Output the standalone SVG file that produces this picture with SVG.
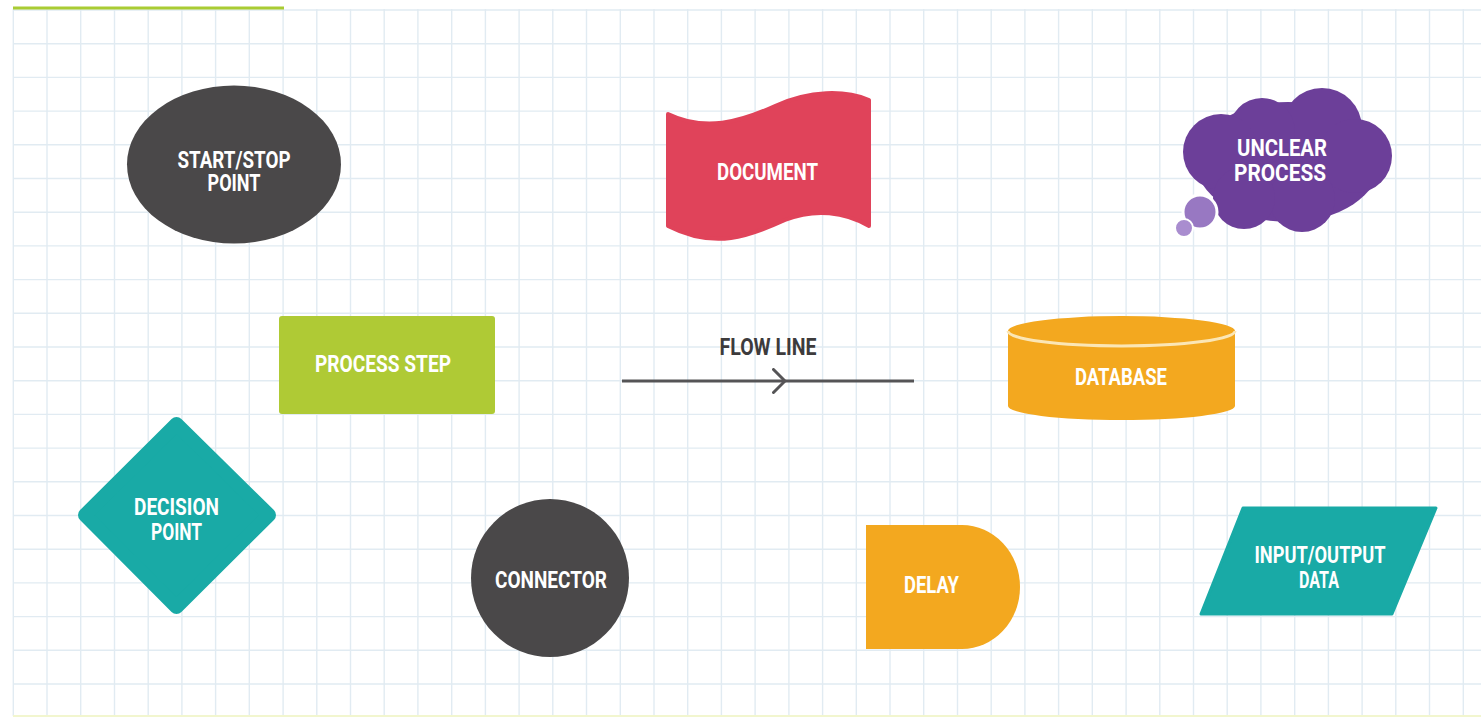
<svg xmlns="http://www.w3.org/2000/svg" width="1481" height="717" viewBox="0 0 1481 717">
  <style>
    .lbl { font-family: Roboto, "Liberation Sans", "DejaVu Sans", sans-serif; font-weight: bold; font-size: 24px; fill: #ffffff; text-anchor: middle; }
    .dark { fill: #3d3b3c; }
    .gray { fill: #4a4849; }
    .red { fill: #e0435a; stroke: #e0435a; stroke-width: 4; stroke-linejoin: round; }
    .purple { fill: #6c3f99; }
    .lime { fill: #afca35; }
    .teal { fill: #19aaa6; stroke: #19aaa6; stroke-linejoin: round; }
    .orange { fill: #f3a81f; }
    .flow { fill: none; stroke: #555456; stroke-width: 3; }
    .grid { fill: none; stroke: #e1ebf2; stroke-width: 1.4; }
  </style>
  <defs>
    <marker id="chevron" viewBox="0 0 15 26" refX="13" refY="13" markerWidth="15" markerHeight="26" markerUnits="userSpaceOnUse" orient="auto">
      <path d="M1.5 1.5 L13 13 L1.5 24.5" fill="none" stroke="#555456" stroke-width="3" stroke-linecap="round"/>
    </marker>
  </defs>

  <!-- paper with square grid -->
  <rect width="1481" height="717" fill="#ffffff"/>
  <path class="grid" d="
    M13.3 9 V716 M47 9 V716 M80.7 9 V716 M114.5 9 V716 M148.2 9 V716 M181.9 9 V716 M215.6 9 V716 M249.3 9 V716
    M283.1 9 V716 M316.8 9 V716 M350.5 9 V716 M384.2 9 V716 M417.9 9 V716 M451.7 9 V716 M485.4 9 V716 M519.1 9 V716
    M552.8 9 V716 M586.5 9 V716 M620.3 9 V716 M654 9 V716 M687.7 9 V716 M721.4 9 V716 M755.1 9 V716 M788.9 9 V716
    M822.6 9 V716 M856.3 9 V716 M890 9 V716 M923.7 9 V716 M957.5 9 V716 M991.2 9 V716 M1024.9 9 V716 M1058.6 9 V716
    M1092.3 9 V716 M1126.1 9 V716 M1159.8 9 V716 M1193.5 9 V716 M1227.2 9 V716 M1260.9 9 V716 M1294.7 9 V716 M1328.4 9 V716
    M1362.1 9 V716 M1395.8 9 V716 M1429.5 9 V716 M1463.3 9 V716
    M13 10 H1481 M13 43.7 H1481 M13 77.4 H1481 M13 111.1 H1481 M13 144.8 H1481 M13 178.5 H1481 M13 212.2 H1481
    M13 245.9 H1481 M13 279.6 H1481 M13 313.3 H1481 M13 347 H1481 M13 380.7 H1481 M13 414.4 H1481 M13 448.1 H1481
    M13 481.8 H1481 M13 515.5 H1481 M13 549.2 H1481 M13 582.9 H1481 M13 616.6 H1481 M13 650.3 H1481 M13 684 H1481"/>
  <rect x="13" y="6.5" width="271" height="3" fill="#a9cc33"/>
  <rect x="13" y="715" width="1468" height="2" fill="#f2f6cf"/>

  <!-- connectors -->
  <g id="connectors">
    <path id="flow-line" class="flow" d="M622 381 L785 381 L914 381" marker-mid="url(#chevron)"/>
    <text class="lbl dark" x="768" y="355" textLength="97" lengthAdjust="spacingAndGlyphs">FLOW LINE</text>
  </g>

  <!-- start / stop -->
  <g id="start-stop">
    <ellipse class="gray" cx="234" cy="164.5" rx="107" ry="79"/>
    <text class="lbl" x="234" y="168" textLength="113" lengthAdjust="spacingAndGlyphs">START/STOP</text>
    <text class="lbl" x="234" y="191" textLength="53" lengthAdjust="spacingAndGlyphs">POINT</text>
  </g>

  <!-- document -->
  <g id="document">
    <path class="red" d="M668 114 C 705 132, 740 122, 775 106 C 810 90, 845 90, 869 100 L 869 226 C 845 212, 815 208, 785 220 C 750 236, 715 250, 668 226 Z"/>
    <text class="lbl" x="767.5" y="180" textLength="101" lengthAdjust="spacingAndGlyphs">DOCUMENT</text>
  </g>

  <!-- unclear process -->
  <g id="unclear-process">
    <g class="purple">
      <ellipse cx="1288" cy="162" rx="92" ry="60"/>
      <circle cx="1322" cy="128" r="40"/>
      <circle cx="1262" cy="131" r="33"/>
      <circle cx="1221" cy="152" r="38"/>
      <circle cx="1355" cy="156" r="37"/>
      <circle cx="1302" cy="199" r="33"/>
      <circle cx="1244" cy="198" r="31"/>
    </g>
    <circle cx="1200" cy="212" r="17" fill="#9878c2" stroke="#ffffff" stroke-width="3"/>
    <circle cx="1184" cy="228" r="9" fill="#a98dcf" stroke="#ffffff" stroke-width="2"/>
    <text class="lbl" x="1282" y="156" textLength="90" lengthAdjust="spacingAndGlyphs">UNCLEAR</text>
    <text class="lbl" x="1280" y="181" textLength="92" lengthAdjust="spacingAndGlyphs">PROCESS</text>
  </g>

  <!-- process step -->
  <g id="process-step">
    <rect class="lime" x="279" y="316" width="216" height="98" rx="3"/>
    <text class="lbl" x="383" y="372" textLength="136" lengthAdjust="spacingAndGlyphs">PROCESS STEP</text>
  </g>

  <!-- database -->
  <g id="database">
    <path class="orange" d="M1008 331 L1008 406 A113.5 14 0 0 0 1235 406 L1235 331 A113.5 15 0 0 0 1008 331 Z"/>
    <path d="M1008 331 A113.5 15 0 0 0 1235 331" fill="none" stroke="#fbe6b5" stroke-width="3"/>
    <text class="lbl" x="1121" y="385" textLength="92" lengthAdjust="spacingAndGlyphs">DATABASE</text>
  </g>

  <!-- decision point -->
  <g id="decision-point">
    <polygon class="teal" stroke-width="14" points="176.5,424 269,515 176.5,607 85,515"/>
    <text class="lbl" x="176.5" y="515" textLength="85" lengthAdjust="spacingAndGlyphs">DECISION</text>
    <text class="lbl" x="176.5" y="540" textLength="51" lengthAdjust="spacingAndGlyphs">POINT</text>
  </g>

  <!-- connector -->
  <g id="connector">
    <circle class="gray" cx="550" cy="578" r="79"/>
    <text class="lbl" x="551" y="588" textLength="112" lengthAdjust="spacingAndGlyphs">CONNECTOR</text>
  </g>

  <!-- delay -->
  <g id="delay">
    <path class="orange" d="M866 525 H962 A58 62 0 0 1 962 649 H866 Z"/>
    <text class="lbl" x="931.5" y="593" textLength="55" lengthAdjust="spacingAndGlyphs">DELAY</text>
  </g>

  <!-- input / output -->
  <g id="input-output">
    <polygon class="teal" stroke-width="3" points="1243,508 1436,508 1392,614 1201,614"/>
    <text class="lbl" x="1320" y="563" textLength="131" lengthAdjust="spacingAndGlyphs">INPUT/OUTPUT</text>
    <text class="lbl" x="1319" y="588" textLength="40" lengthAdjust="spacingAndGlyphs">DATA</text>
  </g>
</svg>
